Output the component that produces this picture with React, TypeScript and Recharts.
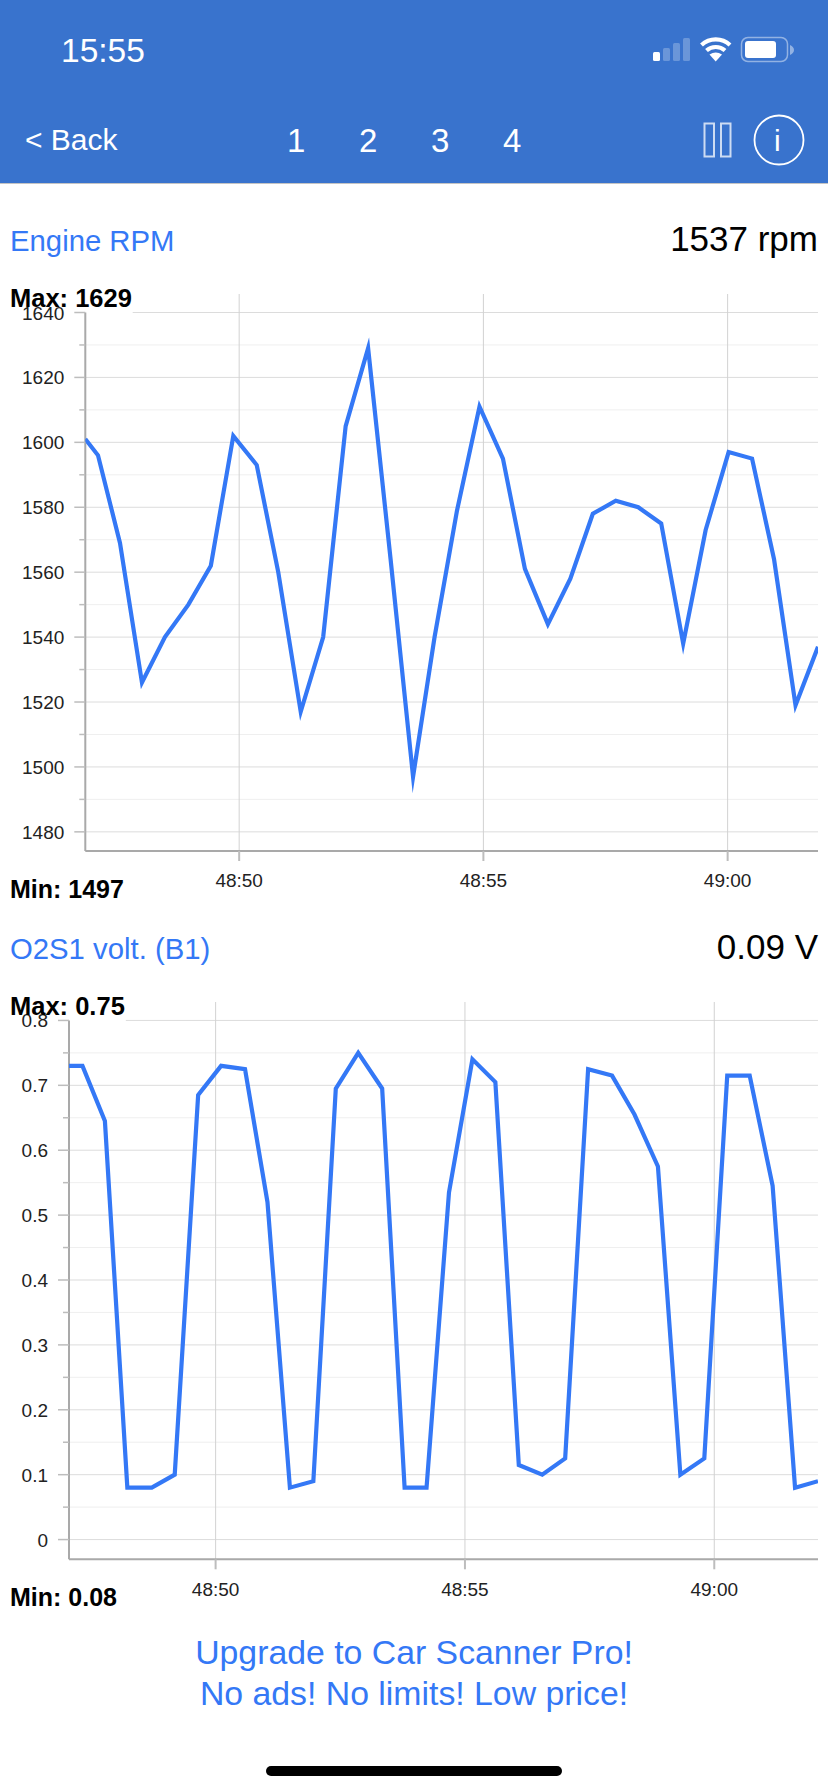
import React from 'react';
import { LineChart, Line, XAxis, YAxis, ReferenceLine } from 'recharts';

const FONT = '"Liberation Sans", Arial, sans-serif';
const BLUE = '#3478F6';
const BAR = '#3973CD';

// seconds after 48:00
const timeTicks = [50, 55, 60];

const rpmTimes = [46.85, 47.11, 47.56, 48.01, 48.48, 48.96, 49.42, 49.88, 50.36, 50.8, 51.26, 51.72, 52.18, 52.64, 53.1, 53.56, 54.0, 54.46, 54.92, 55.4, 55.85, 56.32, 56.78, 57.24, 57.71, 58.17, 58.64, 59.09, 59.55, 60.02, 60.5, 60.95, 61.39, 61.85];
const rpmValues = [1601, 1596, 1569, 1526, 1540, 1550, 1562, 1602, 1593, 1560, 1517, 1540, 1605, 1629, 1564, 1497, 1540, 1579, 1611, 1595, 1561, 1544, 1558, 1578, 1582, 1580, 1575, 1538, 1573, 1597, 1595, 1564, 1519, 1537];
const rpmMajorTicks = [1480, 1500, 1520, 1540, 1560, 1580, 1600, 1620, 1640];
const rpmMinorTicks = [1490, 1510, 1530, 1550, 1570, 1590, 1610, 1630];

const o2Times = [47.06, 47.33, 47.78, 48.23, 48.72, 49.18, 49.65, 50.11, 50.59, 51.04, 51.49, 51.96, 52.41, 52.86, 53.34, 53.79, 54.23, 54.68, 55.15, 55.61, 56.08, 56.55, 57.01, 57.47, 57.95, 58.4, 58.87, 59.32, 59.8, 60.26, 60.71, 61.17, 61.62, 62.08];
const o2Values = [0.73, 0.73, 0.645, 0.08, 0.08, 0.1, 0.685, 0.73, 0.725, 0.52, 0.08, 0.09, 0.695, 0.75, 0.695, 0.08, 0.08, 0.535, 0.74, 0.705, 0.115, 0.1, 0.125, 0.725, 0.715, 0.655, 0.575, 0.1, 0.125, 0.715, 0.715, 0.545, 0.08, 0.09];
const o2MajorTicks = [0, 0.1, 0.2, 0.3, 0.4, 0.5, 0.6, 0.7, 0.8];
const o2MinorTicks = [0.05, 0.15, 0.25, 0.35, 0.45, 0.55, 0.65, 0.75];

const formatTime = (s: number) => {
  const total = 48 * 60 + s;
  const m = Math.floor(total / 60);
  const sec = Math.round(total - m * 60);
  return `${m}:${String(sec).padStart(2, '0')}`;
};

function YTick({ x, y, payload, majors }: any) {
  const major = majors.includes(payload.value);
  return (
    <g>
      <line x1={x + (major ? -1 : 4)} x2={x + 10} y1={y} y2={y} stroke="#bdbdbd" strokeWidth={1.5} />
      {major && (
        <text x={x - 11} y={y + 7} textAnchor="end" fontSize={19} fontFamily={FONT} fill="#222">
          {payload.value}
        </text>
      )}
    </g>
  );
}

interface TraceProps {
  top: number;
  axisWidth: number;
  plotHeight: number;
  times: number[];
  values: number[];
  majors: number[];
  minors: number[];
  xDomain: [number, number];
  yDomain: [number, number];
  labelEnd: number;
}

function Trace({ top, axisWidth, plotHeight, times, values, majors, minors, xDomain, yDomain, labelEnd }: TraceProps) {
  const data = times.map((t, i) => ({ t, v: values[i] }));
  const yTop = majors[majors.length - 1];
  return (
    <div style={{ position: 'absolute', left: 0, top }}>
      <LineChart
        width={828}
        height={plotHeight + 48}
        data={data}
        margin={{ top: 0, right: 10, bottom: 0, left: 0 }}
      >
        <XAxis
          dataKey="t"
          type="number"
          domain={xDomain}
          allowDataOverflow
          ticks={timeTicks}
          tickFormatter={formatTime}
          height={48}
          tickSize={10}
          tickMargin={13}
          tickLine={{ stroke: '#bdbdbd', strokeWidth: 2 }}
          axisLine={{ stroke: '#a9a9a9', strokeWidth: 2 }}
          tick={{ fontSize: 19, fontFamily: FONT, fill: '#222' }}
        />
        <YAxis
          type="number"
          domain={yDomain}
          allowDataOverflow
          width={axisWidth}
          ticks={[...majors, ...minors].sort((a, b) => a - b)}
          interval={0}
          axisLine={false}
          tickLine={false}
          tick={(p: any) => <YTick {...p} x={axisWidth - 10} majors={majors} />}
        />
        {minors.map(v => (
          <ReferenceLine key={v} y={v} stroke="#efefef" strokeWidth={1} />
        ))}
        {majors.filter(v => v !== yTop).map(v => (
          <ReferenceLine key={v} y={v} stroke="#dcdcdc" strokeWidth={1} />
        ))}
        <ReferenceLine
          segment={[{ x: labelEnd, y: yTop }, { x: xDomain[1], y: yTop }]}
          stroke="#dcdcdc"
          strokeWidth={1}
        />
        {timeTicks.map(t => (
          <ReferenceLine key={t} x={t} stroke="#d2d2d2" strokeWidth={1} />
        ))}
        <ReferenceLine
          segment={[{ x: xDomain[0], y: yTop }, { x: xDomain[0], y: yDomain[0] }]}
          stroke="#a9a9a9"
          strokeWidth={2}
        />
        <Line
          dataKey="v"
          type="linear"
          stroke={BLUE}
          strokeWidth={4.2}
          strokeLinejoin="miter"
          strokeMiterlimit={20}
          dot={false}
          isAnimationActive={false}
        />
      </LineChart>
    </div>
  );
}

function Txt({ x, y, size, color = '#000', bold, right, center, children }: any) {
  const style: React.CSSProperties = {
    position: 'absolute',
    top: y,
    fontSize: size,
    lineHeight: `${size}px`,
    color,
    fontWeight: bold ? 700 : 400,
    fontFamily: FONT,
    whiteSpace: 'nowrap',
  };
  if (right !== undefined) style.right = right;
  else if (center) {
    style.left = 0;
    style.width = 828;
    style.textAlign = 'center';
  } else style.left = x;
  return <div style={style}>{children}</div>;
}

function StatusIcons() {
  return (
    <svg style={{ position: 'absolute', left: 0, top: 0 }} width={828} height={184}>
      <rect x={653} y={52} width={7} height={9} rx={1.5} fill="#fff" />
      <rect x={663} y={48} width={7} height={13} rx={1.5} fill="#fff" opacity={0.25} />
      <rect x={673} y={43} width={7} height={18} rx={1.5} fill="#fff" opacity={0.25} />
      <rect x={683} y={38} width={7} height={23} rx={1.5} fill="#fff" opacity={0.25} />
      <g fill="none" stroke="#fff" strokeWidth={4.2}>
        <path d="M701.5 45 A21 21 0 0 1 730 45" />
        <path d="M706.5 50.5 A14 14 0 0 1 725 50.5" />
      </g>
      <path d="M715.7 61.5 L709.5 54.5 Q715.7 50.5 722 54.5 Z" fill="#fff" />
      <rect x={741.5} y={37.5} width={46} height={24} rx={6.5} fill="none" stroke="#fff" strokeOpacity={0.45} strokeWidth={1.5} />
      <rect x={745} y={41} width={31} height={17} rx={3} fill="#fff" />
      <path d="M790 45 Q794 47 794 50 Q794 53 790 55 Z" fill="#fff" opacity={0.45} />
      <rect x={704.5} y={123.5} width={9.5} height={33} fill="none" stroke="#fff" strokeOpacity={0.75} strokeWidth={2} />
      <rect x={721} y={123.5} width={9.5} height={33} fill="none" stroke="#fff" strokeOpacity={0.75} strokeWidth={2} />
      <circle cx={779} cy={140} r={24.5} fill="none" stroke="#fff" strokeWidth={1.8} />
    </svg>
  );
}

export default function App() {
  return (
    <div style={{ position: 'absolute', left: 0, top: 0, width: 828, height: 1792, background: '#fff', overflow: 'hidden' }}>
      <div style={{ position: 'absolute', left: 0, top: 0, width: 828, height: 183, background: BAR, borderBottom: '1px solid #c4c4c4' }} />
      <StatusIcons />
      <Txt x={61} y={34} size={33.5} color="#fff">15:55</Txt>
      <Txt x={25} y={125} size={30} color="#fff">{'< Back'}</Txt>
      <Txt x={287} y={124} size={33} color="#fff">1</Txt>
      <Txt x={359} y={124} size={33} color="#fff">2</Txt>
      <Txt x={431} y={124} size={33} color="#fff">3</Txt>
      <Txt x={503} y={124} size={33} color="#fff">4</Txt>
      <Txt x={774} y={126} size={30} color="#fff">i</Txt>

      <Txt x={10} y={226} size={29.3} color={BLUE}>Engine RPM</Txt>
      <Txt right={10} y={221} size={35}>1537 rpm</Txt>
      <Trace
        top={294}
        axisWidth={85.3}
        plotHeight={557}
        times={rpmTimes}
        values={rpmValues}
        majors={rpmMajorTicks}
        minors={rpmMinorTicks}
        xDomain={[46.85, 61.85]}
        yDomain={[1474.1, 1645.7]}
        labelEnd={47.82}
      />
      <Txt x={10} y={286} size={25.5} bold>Max: 1629</Txt>
      <Txt x={10} y={877} size={25} bold>Min: 1497</Txt>

      <Txt x={10} y={934} size={29.3} color={BLUE}>O2S1 volt. (B1)</Txt>
      <Txt right={10} y={929} size={35}>0.09 V</Txt>
      <Trace
        top={1002}
        axisWidth={69}
        plotHeight={557.3}
        times={o2Times}
        values={o2Values}
        majors={o2MajorTicks}
        minors={o2MinorTicks}
        xDomain={[47.06, 62.08]}
        yDomain={[-0.0304, 0.8284]}
        labelEnd={48.2}
      />
      <Txt x={10} y={994} size={25.5} bold>Max: 0.75</Txt>
      <Txt x={10} y={1585} size={25} bold>Min: 0.08</Txt>

      <Txt center y={1636} size={33.8} color={BLUE}>Upgrade to Car Scanner Pro!</Txt>
      <Txt center y={1677} size={33.8} color={BLUE}>No ads! No limits! Low price!</Txt>
      <div style={{ position: 'absolute', left: 266, top: 1766, width: 296, height: 10, borderRadius: 5, background: '#000' }} />
    </div>
  );
}
